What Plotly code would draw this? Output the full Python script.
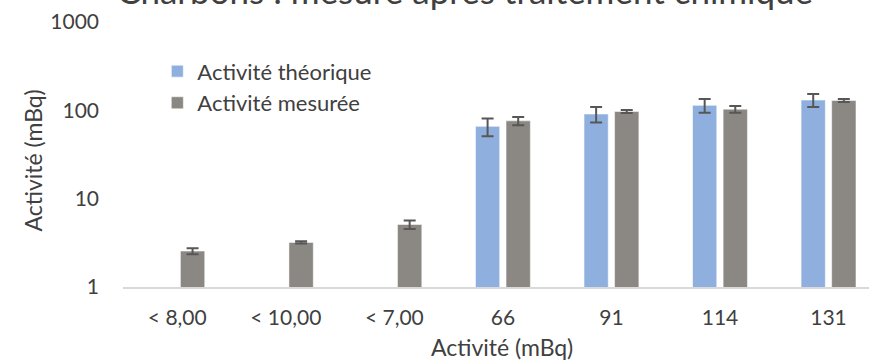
import plotly.graph_objects as go

# Categories (activity labels) and series values, in mBq
categories = ["< 8,00", "< 10,00", "< 7,00", "66", "91", "114", "131"]
theorique = [None, None, None, 66, 91, 114, 131]
theorique_err = [None, None, None, 15, 18, 20, 22]
mesuree = [2.55, 3.2, 5.1, 76, 97, 103, 129]
mesuree_err = [0.2, 0.1, 0.55, 8, 4, 9, 5]

y_ticks = [1, 10, 100, 1000]

FONT = "Lato"
TEXT = "#404040"
BLUE = "#8FB0DE"
GREY = "#8B8782"
ERR = "#575757"

fig = go.Figure()
fig.add_trace(go.Bar(
    name="Activité théorique", x=categories, y=theorique,
    marker=dict(color=BLUE, line=dict(color="rgba(255,255,255,0.6)", width=1)),
    error_y=dict(type="data", array=theorique_err, color=ERR, thickness=2, width=6),
))
fig.add_trace(go.Bar(
    name="Activité mesurée", x=categories, y=mesuree,
    marker=dict(color=GREY, line=dict(color="rgba(255,255,255,0.5)", width=1)),
    error_y=dict(type="data", array=mesuree_err, color=ERR, thickness=2, width=6),
))

fig.update_layout(
    width=869, height=361,
    margin=dict(l=123, r=0, t=22, b=74),
    paper_bgcolor="white", plot_bgcolor="white",
    barmode="group", bargap=0.436, bargroupgap=0.206,
    font=dict(family=FONT, size=21, color=TEXT),
    showlegend=True,
    legend=dict(x=0.046, y=0.893, xanchor="left", yanchor="top",
                bgcolor="rgba(0,0,0,0)", font=dict(size=22, color=TEXT)),
    annotations=[
        dict(text="Charbons : mesure après traitement chimique",
             xref="paper", yref="paper", x=0.458, y=1, xanchor="center",
             yanchor="middle", yshift=32, showarrow=False,
             font=dict(size=35, color=TEXT)),
        dict(text="Activité (mBq)", xref="paper", yref="paper", x=0.508, y=0,
             xanchor="center", yanchor="middle", yshift=-60, showarrow=False,
             font=dict(size=23, color=TEXT)),
        dict(text="Activité (mBq)", xref="paper", yref="paper", x=0, y=0.5,
             xanchor="center", yanchor="middle", xshift=-91, yshift=-6,
             textangle=-90, showarrow=False, font=dict(size=23, color=TEXT)),
    ],
)

fig.update_xaxes(
    type="category", range=[-0.5, 6.373],
    showline=True, linecolor="#D9D9D9", linewidth=2,
    showgrid=False, ticks="", ticklabelstandoff=11,
    tickfont=dict(size=21, color=TEXT),
)
fig.update_yaxes(
    type="log", range=[0, 3],
    tickvals=y_ticks, ticktext=[str(v) for v in y_ticks],
    showline=False, showgrid=False, zeroline=False, ticks="",
    ticklabelstandoff=23, tickfont=dict(size=21, color=TEXT),
)

fig.write_html("out.html")
